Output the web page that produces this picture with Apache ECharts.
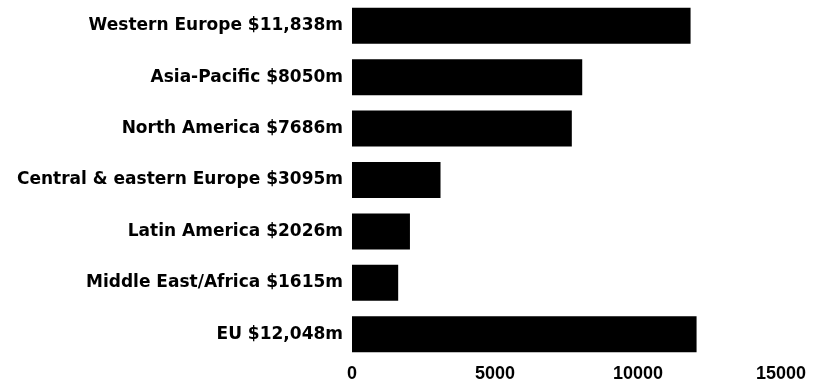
<!DOCTYPE html>
<html>
<head>
<meta charset="utf-8">
<script src="https://cdn.jsdelivr.net/npm/echarts@6/dist/echarts.min.js"></script>
<style>
html,body{margin:0;padding:0;background:#fff;}
#chart{width:813px;height:387px;}
</style>
</head>
<body>
<div id="chart"></div>
<script>
const categories = [
  "Western Europe $11,838m",
  "Asia-Pacific $8050m",
  "North America $7686m",
  "Central & eastern Europe $3095m",
  "Latin America $2026m",
  "Middle East/Africa $1615m",
  "EU $12,048m"
];
const values = [11838, 8050, 7686, 3095, 2026, 1615, 12048];
const xTicks = [0, 5000, 10000, 15000];

const chart = echarts.init(document.getElementById('chart'), null, {renderer: 'canvas'});
chart.setOption({
  animation: false,
  backgroundColor: '#ffffff',
  grid: {left: 352, right: 32, top: 0, bottom: 27, containLabel: false},
  xAxis: {
    type: 'value',
    min: xTicks[0],
    max: xTicks[xTicks.length - 1],
    interval: xTicks[1] - xTicks[0],
    axisLine: {show: false},
    axisTick: {show: false},
    splitLine: {show: false},
    axisLabel: {
      color: '#000',
      fontFamily: 'Liberation Sans',
      fontWeight: 'bold',
      fontSize: 18,
      margin: 5,
      formatter: function (v) { return String(v); }
    }
  },
  yAxis: {
    type: 'category',
    data: categories,
    inverse: true,
    axisLine: {show: false},
    axisTick: {show: false},
    axisLabel: {
      color: '#000',
      fontFamily: 'DejaVu Sans',
      fontWeight: 'bold',
      fontSize: 17,
      margin: 9
    }
  },
  series: [{
    type: 'bar',
    data: values,
    barCategoryGap: '30%',
    itemStyle: {color: '#000'}
  }]
});
</script>
</body>
</html>
